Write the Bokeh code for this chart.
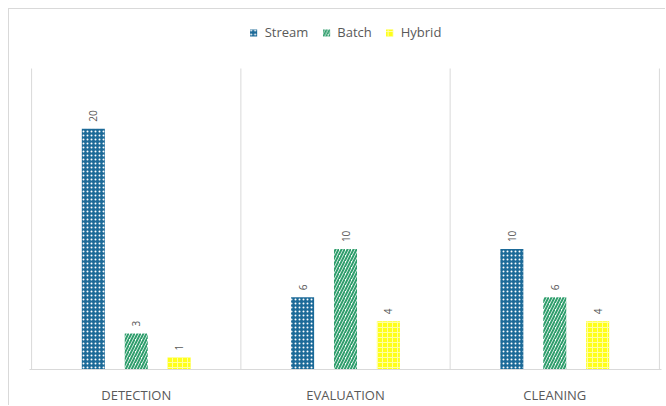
import numpy as np
from bokeh.plotting import figure
from bokeh.models import ColumnDataSource, Range1d, FixedTicker
from bokeh.core.properties import value
from bokeh.embed import file_html
from bokeh.resources import INLINE

categories = ["DETECTION", "EVALUATION", "CLEANING"]
series = ["Stream", "Batch", "Hybrid"]
stream = [20, 6, 10]
batch = [3, 10, 6]
hybrid = [1, 4, 4]
y_axis_max = 25

FONT = "Open Sans"
GRAY = "#595959"
LINE = "#d9d9d9"

ncat = len(categories)
centers = np.arange(ncat) + 0.5
px_per_unit = 12.04
frame_h = 360

p = figure(width=657, height=397, output_backend="svg", toolbar_location=None,
           x_range=Range1d(-0.01, ncat + 0.01),
           y_range=Range1d(0, frame_h / px_per_unit),
           min_border_left=20, min_border_right=5, min_border_top=0, min_border_bottom=37)
p.margin = (8, 0, 0, 8)
p.styles = {"border-left": "1px solid #d9d9d9", "border-top": "1px solid #d9d9d9"}
p.outline_line_color = None
p.background_fill_color = "white"
p.border_fill_color = "white"
p.xgrid.visible = False
p.ygrid.visible = False
p.yaxis.visible = False

# category dividers
div_x = list(range(ncat + 1))
p.segment(x0=div_x, y0=[0] * len(div_x), x1=div_x, y1=[y_axis_max] * len(div_x),
          line_color=LINE, line_width=1)

styles = {
    "Stream": dict(fill_color="#1c6a98", hatch_pattern="dot", hatch_color="white",
                   hatch_scale=4, hatch_weight=1.6),
    "Batch": dict(fill_color="white", hatch_pattern="right_diagonal_line",
                  hatch_color="#2f9e6c", hatch_scale=6, hatch_weight=2),
    "Hybrid": dict(fill_color="#ffff1a", hatch_pattern="cross", hatch_color="#ffffa0",
                   hatch_scale=5, hatch_weight=1),
}
offsets = [-0.205, 0.0, 0.205]
for name, vals, off in zip(series, [stream, batch, hybrid], offsets):
    src = ColumnDataSource(dict(x=centers + off, top=vals, lab=[str(v) for v in vals]))
    p.vbar(x="x", top="top", bottom=0, width=0.11, source=src, line_color=None,
           legend_label=name, **styles[name])
    p.text(x="x", y="top", text="lab", source=src, angle=np.pi / 2,
           text_align="left", text_baseline="middle", y_offset=-7,
           text_font=value(FONT), text_font_size="10px", text_color=GRAY)

ax = p.xaxis[0]
ax.ticker = FixedTicker(ticks=list(centers))
ax.major_label_overrides = {float(c): lab for c, lab in zip(centers, categories)}
ax.major_label_text_font = FONT
ax.major_label_text_font_size = "13px"
ax.major_label_text_color = GRAY
ax.major_label_standoff = 10
ax.axis_line_color = LINE
ax.major_tick_line_color = None
ax.minor_tick_line_color = None

lg = p.legend[0]
lg.location = "top_center"
lg.orientation = "horizontal"
lg.margin = 14
lg.padding = 0
lg.spacing = 13
lg.label_standoff = 7
lg.glyph_width = 9
lg.glyph_height = 9
lg.label_height = 16
lg.label_text_font = FONT
lg.label_text_font_size = "13px"
lg.label_text_color = GRAY
lg.border_line_color = None
lg.background_fill_alpha = 0

open("out.html", "w").write(file_html(p, INLINE))
